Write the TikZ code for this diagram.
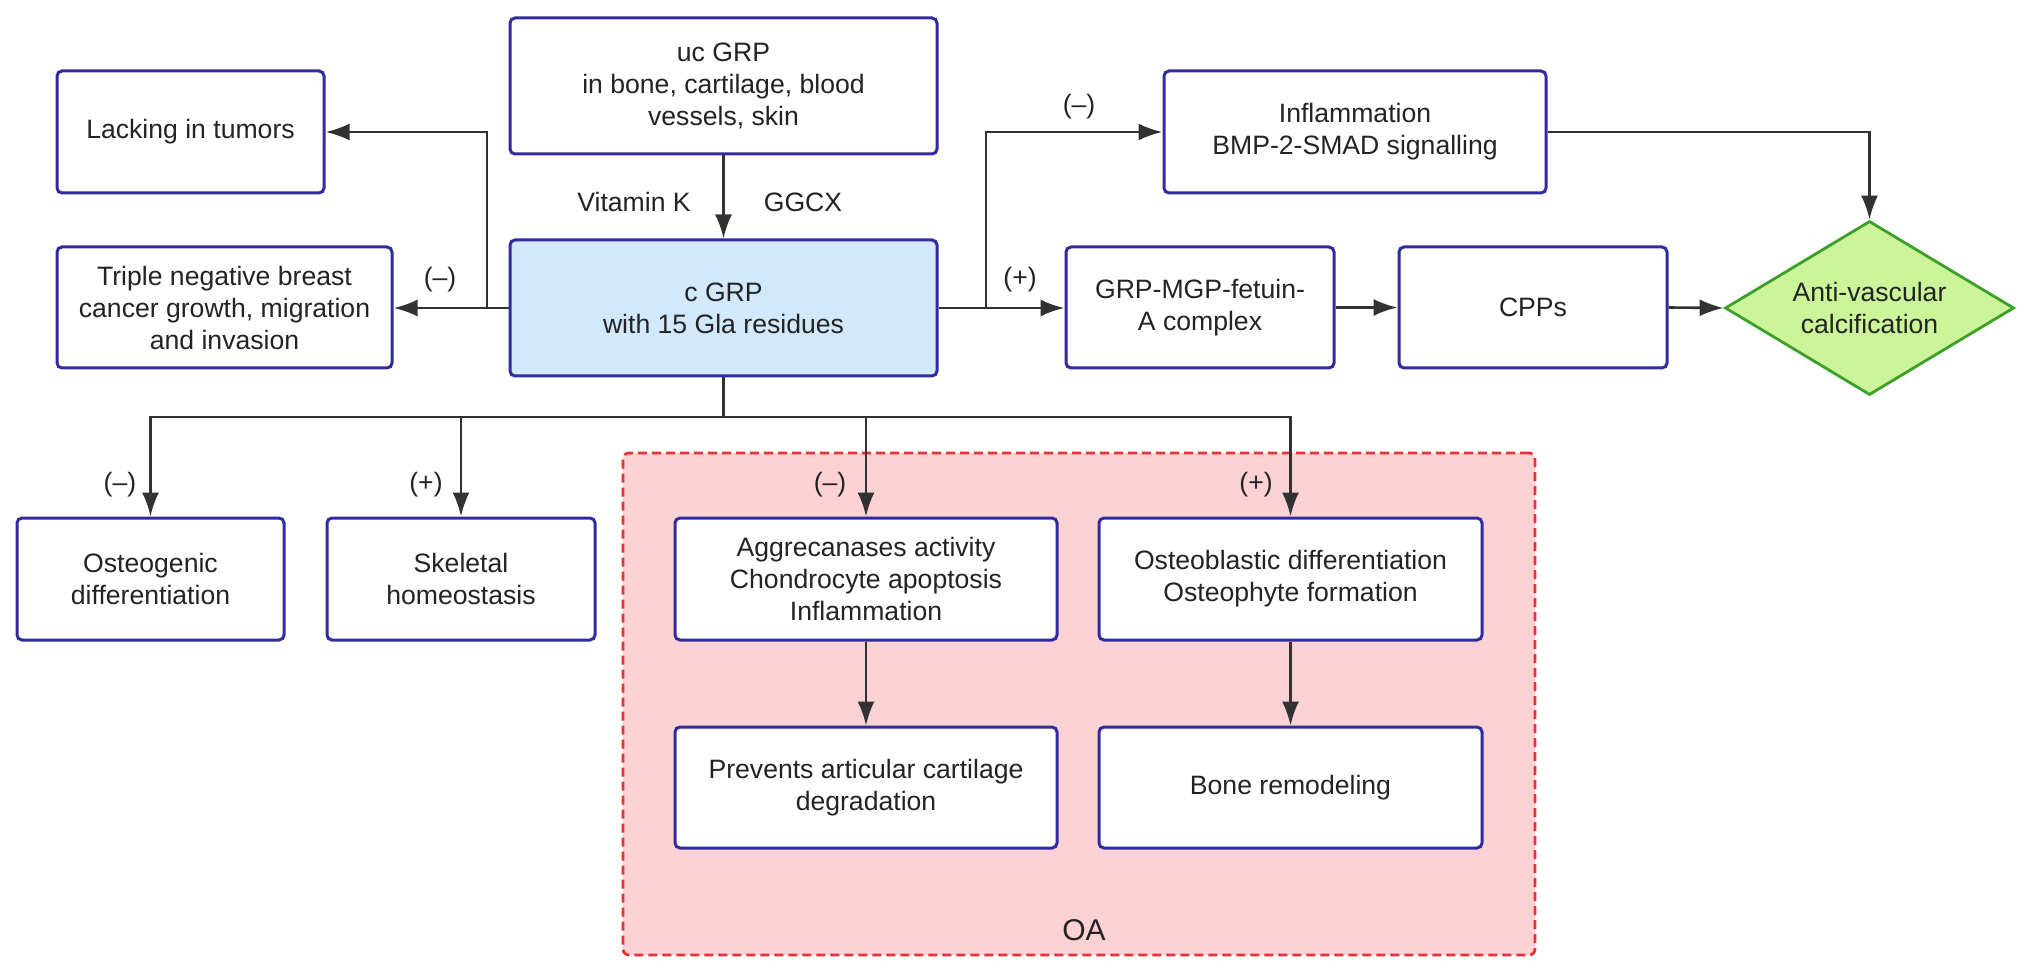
\documentclass[tikz,border=0pt]{standalone}
\usepackage{fontspec}
\setmainfont{Liberation Sans}
\usetikzlibrary{shapes.geometric,arrows.meta}
\definecolor{bordblue}{RGB}{48,44,160}
\definecolor{cfill}{RGB}{210,232,251}
\definecolor{dfill}{RGB}{204,245,154}
\definecolor{dbord}{RGB}{60,160,40}
\definecolor{oafill}{RGB}{253,210,212}
\definecolor{oabord}{RGB}{232,50,55}
\definecolor{arrcol}{RGB}{50,50,50}
\definecolor{txt}{RGB}{35,35,35}
\tikzset{
  box/.style={draw=bordblue, line width=1.5pt, rounded corners=2.5pt, fill=white,
    align=center, inner sep=2pt, text=txt,
    font=\fontsize{13.3pt}{16pt}\selectfont},
  arr/.style={draw=arrcol, line width=1.3pt, -{Latex[length=12pt,width=8.5pt]}},
  lbl/.style={text=txt, font=\fontsize{13.3pt}{16pt}\selectfont, inner sep=0pt},
}
\begin{document}
\begin{tikzpicture}[x=0.5pt,y=-0.5pt]
\useasboundingbox (0,0) rectangle (2032,972);
% OA region
\node[draw=oabord, fill=oafill, line width=1.4pt, dash pattern=on 4.5pt off 2.5pt,
  rounded corners=3pt, minimum width=456pt, minimum height=251pt, inner sep=0pt]
  (oa) at (1079,704) {};
\node[lbl, font=\fontsize{15pt}{18pt}\selectfont] (oalbl) at (1084,930) {OA};
% boxes
\node[box, minimum width=213.5pt, minimum height=68pt] (uc) at (723.5,86)
  {uc GRP\\in bone, cartilage, blood\\vessels, skin};
\node[box, fill=cfill, minimum width=213.5pt, minimum height=68pt] (cgrp) at (723.5,308)
  {c GRP\\with 15 Gla residues};
\node[box, minimum width=133.5pt, minimum height=61pt] (lack) at (190.5,132)
  {Lacking in tumors};
\node[box, minimum width=167.5pt, minimum height=60.5pt] (triple) at (224.5,307.5)
  {Triple negative breast\\cancer growth, migration\\and invasion};
\node[box, minimum width=191pt, minimum height=61pt] (infl) at (1355,132)
  {Inflammation\\BMP-2-SMAD signalling};
\node[box, minimum width=134pt, minimum height=60.5pt] (mgp) at (1200,307.5)
  {GRP-MGP-fetuin-\\A complex};
\node[box, minimum width=134pt, minimum height=60.5pt] (cpps) at (1533,307.5)
  {CPPs};
\node[diamond, draw=dbord, fill=dfill, line width=1.4pt, aspect=1.66,
  minimum width=144.5pt, minimum height=87pt, inner sep=0pt, align=center, text=txt,
  font=\fontsize{13.3pt}{16pt}\selectfont] (anti) at (1869.5,308)
  {Anti-vascular\\calcification};
\node[box, minimum width=133.5pt, minimum height=61pt] (osteo) at (150.5,579)
  {Osteogenic\\differentiation};
\node[box, minimum width=134pt, minimum height=61pt] (skel) at (461,579)
  {Skeletal\\homeostasis};
\node[box, minimum width=191pt, minimum height=61pt] (aggr) at (866,579)
  {Aggrecanases activity\\Chondrocyte apoptosis\\Inflammation};
\node[box, minimum width=191.5pt, minimum height=61pt] (obl) at (1290.5,579)
  {Osteoblastic differentiation\\Osteophyte formation};
\node[box, minimum width=191pt, minimum height=60.5pt] (prev) at (866,787.5)
  {Prevents articular cartilage\\degradation};
\node[box, minimum width=191.5pt, minimum height=60.5pt] (bone) at (1290.5,787.5)
  {Bone remodeling};
% labels
\node[lbl] (vk) at (634,202) {Vitamin K};
\node[lbl] (ggcx) at (803,202) {GGCX};
\node[lbl] (l1) at (440,280) {(--)};
\node[lbl] (l2) at (1079,107) {(--)};
\node[lbl] (l3) at (1020,280) {(+)};
\node[lbl] (l4) at (120,485) {(--)};
\node[lbl] (l5) at (426,485) {(+)};
\node[lbl] (l6) at (830,485) {(--)};
\node[lbl] (l7) at (1256,485) {(+)};
% connectors
\coordinate (j1) at (487,308);
\coordinate (j2) at (986,308);
\coordinate (bus) at (723.5,417);
\draw[arr] (uc.south) -- (cgrp.north);
\draw[arr] (cgrp.west) -- (cgrp.west -| triple.east);
\draw[arr] (j1) |- (lack.east);
\draw[arr] (cgrp.east) -- (cgrp.east -| mgp.west);
\draw[arr] (j2) |- (infl.west);
\draw[arr] (mgp.east) -- (cpps.west);
\draw[arr] (cpps.east) -- (anti.west);
\draw[arr] (infl.east) -| (anti.north);
\draw[arr] (cgrp.south) -- (bus) -| (osteo.north);
\draw[arr] (cgrp.south) -- (bus) -| (skel.north);
\draw[arr] (cgrp.south) -- (bus) -| (aggr.north);
\draw[arr] (cgrp.south) -- (bus) -| (obl.north);
\draw[arr] (aggr.south) -- (prev.north);
\draw[arr] (obl.south) -- (bone.north);
\end{tikzpicture}
\end{document}
